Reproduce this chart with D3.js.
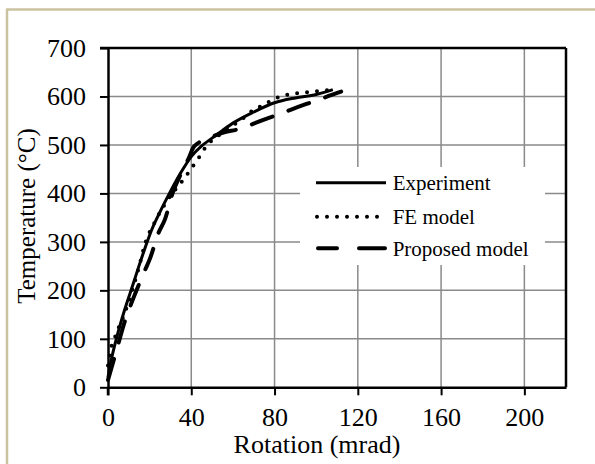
<!DOCTYPE html>
<html>
<head>
<meta charset="utf-8">
<script src="https://cdn.jsdelivr.net/npm/d3@7"></script>
<style>
  html, body { margin: 0; padding: 0; background: #fff; }
  svg { display: block; }
  text { font-family: "Liberation Serif", "Times New Roman", serif; fill: #000; }
</style>
</head>
<body>
<svg id="chart" width="595" height="464"></svg>
<script>
// Rotation (mrad) vs temperature (°C)
const experimentRot  = [0, 1, 2, 4, 8, 12, 15, 18, 21, 25, 29.5, 35, 40, 45, 50, 55, 60, 70, 80, 90, 100, 108];
const experimentTemp = [20, 45, 65, 100, 160, 212, 252, 290, 325, 362, 400, 443, 476, 498, 514, 530, 545, 568, 587, 597, 604, 614];

const feRot  = [0, 1.4, 3.4, 5.3, 7.4, 9, 12, 15, 17.4, 19, 21.3, 23.4, 25.8, 30, 34.9, 37.8, 40.6, 43.4, 46.2, 49.8, 55, 60, 65, 69.8, 74.6, 79, 83.7, 88.5, 93.4, 98.3, 103, 106.6];
const feTemp = [45, 80, 104, 125, 146, 165, 205, 250, 290, 311, 330, 349, 367, 395, 421, 438, 455, 472, 491, 509, 525, 540, 555, 572, 582, 593, 601, 605, 608, 610, 612, 613];

const proposedRot  = [0, 4, 8, 12.2, 17.4, 20.2, 24.2, 27.4, 31, 35, 39, 41, 43, 50, 55, 63, 70, 76, 82, 88, 95, 101, 106, 112];
const proposedTemp = [15, 75, 135, 184, 238, 266, 318, 347, 400, 440, 475, 495, 503, 517, 525, 533, 544, 554, 563, 573, 584, 593, 601, 610];

const xTicks = [0, 40, 80, 120, 160, 200];
const yTicks = [0, 100, 200, 300, 400, 500, 600, 700];
const legendLabels = ["Experiment", "FE model", "Proposed model"];

const svg = d3.select("#chart");

// frame around the figure
svg.append("line").attr("x1", 7).attr("y1", 9.5).attr("x2", 595).attr("y2", 9.5)
  .attr("stroke", "#cbc2a0").attr("stroke-width", 2.5);
svg.append("line").attr("x1", 7).attr("y1", 8.5).attr("x2", 7).attr("y2", 464)
  .attr("stroke", "#cbc2a0").attr("stroke-width", 2.5);

const x = d3.scaleLinear().domain([0, 220]).range([108, 566]);
const y = d3.scaleLinear().domain([0, 700]).range([387.3, 48]);

// grid
const grid = svg.append("g").attr("stroke", "#8a8a8a").attr("stroke-width", 1.5);
xTicks.filter(d => d > 0).forEach(d => {
  grid.append("line").attr("x1", x(d)).attr("x2", x(d)).attr("y1", y(0)).attr("y2", y(700));
});
yTicks.filter(d => d > 0 && d < 700).forEach(d => {
  grid.append("line").attr("x1", x(0)).attr("x2", x(220)).attr("y1", y(d)).attr("y2", y(d));
});

// plot frame (top and right)
svg.append("line").attr("x1", x(0) - 8).attr("x2", x(220)).attr("y1", y(700)).attr("y2", y(700))
  .attr("stroke", "#000").attr("stroke-width", 2.5);
svg.append("line").attr("x1", x(220)).attr("x2", x(220)).attr("y1", y(700)).attr("y2", y(0))
  .attr("stroke", "#000").attr("stroke-width", 2.5);

// axes
const xAxis = svg.append("g").attr("transform", `translate(0,${y(0)})`)
  .call(d3.axisBottom(x).tickValues(xTicks).tickSize(8).tickPadding(14).tickSizeOuter(0));
const yAxis = svg.append("g").attr("transform", `translate(${x(0)},0)`)
  .call(d3.axisLeft(y).tickValues(yTicks).tickSize(8).tickPadding(14).tickSizeOuter(0));
[xAxis, yAxis].forEach(g => {
  g.select(".domain").attr("stroke", "#000").attr("stroke-width", 2.5);
  g.selectAll(".tick line").attr("stroke", "#000").attr("stroke-width", 2);
  g.selectAll(".tick text").attr("font-family", "Liberation Serif").attr("font-size", 26).attr("fill", "#000");
});
xAxis.selectAll(".tick text").attr("dy", null).attr("y", 39);
yAxis.selectAll(".tick text").attr("dy", "0.32em");
// extend y axis line down to tick length
svg.append("line").attr("x1", x(0)).attr("x2", x(0)).attr("y1", y(0)).attr("y2", y(0) + 8)
  .attr("stroke", "#000").attr("stroke-width", 2.5);

// axis titles
svg.append("text").attr("x", 317).attr("y", 453).attr("text-anchor", "middle")
  .attr("font-size", 26).text("Rotation (mrad)");
svg.append("text").attr("transform", "translate(35,216) rotate(-90)").attr("text-anchor", "middle")
  .attr("font-size", 25).text("Temperature (°C)");

// series
const line = d3.line().x(d => x(d[0])).y(d => y(d[1])).curve(d3.curveMonotoneX);
const series = [
  { name: legendLabels[0], pts: d3.zip(experimentRot, experimentTemp), w: 3, dash: null, cap: "butt" },
  { name: legendLabels[1], pts: d3.zip(feRot, feTemp), w: 4, dash: "0 10", cap: "round" },
  { name: legendLabels[2], pts: d3.zip(proposedRot, proposedTemp), w: 4, dash: "22 17", cap: "round" }
];
series.forEach(s => {
  svg.append("path").datum(s.pts).attr("d", line)
    .attr("fill", "none").attr("stroke", "#000")
    .attr("stroke-width", s.w).attr("stroke-dasharray", s.dash)
    .attr("stroke-linecap", s.cap).attr("stroke-linejoin", "round");
});

// legend
const lg = svg.append("g");
lg.append("rect").attr("x", 300).attr("y", 167).attr("width", 245).attr("height", 98).attr("fill", "#fff");
const legendY = [182.7, 216.7, 248.3];
const legendDash = [null, "0 10", "19 22 26 40"];
const legendX = [[316, 386], [317, 386], [318, 385]];
series.forEach((s, i) => {
  lg.append("line").attr("x1", legendX[i][0]).attr("x2", legendX[i][1]).attr("y1", legendY[i]).attr("y2", legendY[i])
    .attr("stroke", "#000").attr("stroke-width", s.w)
    .attr("stroke-dasharray", legendDash[i]).attr("stroke-linecap", s.cap);
  lg.append("text").attr("x", 392.7).attr("y", legendY[i]).attr("dy", "0.37em")
    .attr("font-size", 21).text(s.name);
});
</script>
</body>
</html>
